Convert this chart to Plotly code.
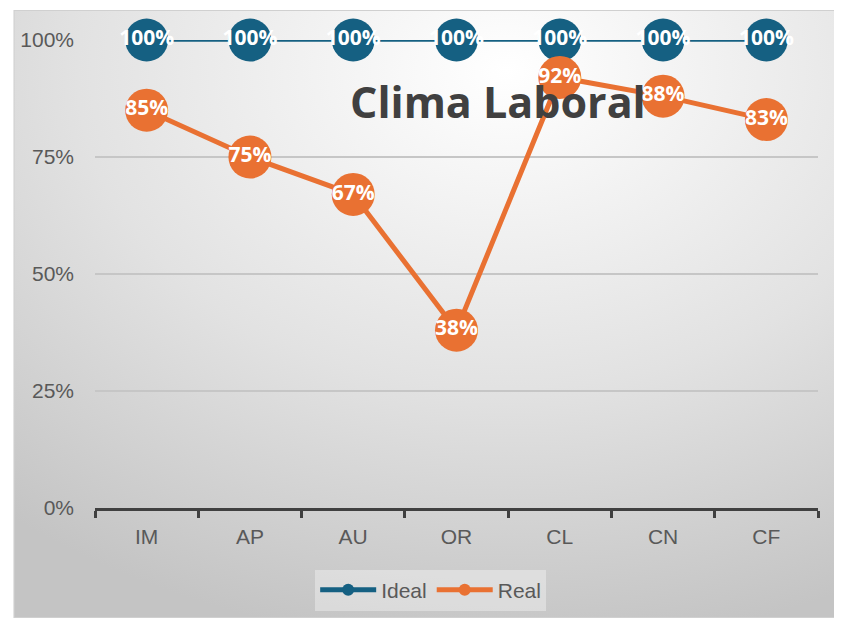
import base64
import plotly.graph_objects as go

categories = ["IM", "AP", "AU", "OR", "CL", "CN", "CF"]
ideal_values = [1.00, 1.00, 1.00, 1.00, 1.00, 1.00, 1.00]
real_values = [0.85, 0.75, 0.67, 0.38, 0.92, 0.88, 0.83]
y_ticks = [0, 0.25, 0.5, 0.75, 1.0]
y_tick_labels = ["0%", "25%", "50%", "75%", "100%"]
title_text = "Clima Laboral"

# the page places the figure 8px in from the top-left corner
OFF = 8
W, H = 842 - OFF, 623 - OFF
L, R, T, B = 90 - OFF, 24, 40 - OFF, 115
PW, PH = W - L - R, H - T - B

def px_x(px):
    return (px - OFF - L) / PW

def px_y(py):
    return (H - B - (py - OFF)) / PH

BLUE = "#156082"
ORANGE = "#E97132"

svg = '''<svg xmlns="http://www.w3.org/2000/svg" width="828" height="608" viewBox="0 0 828 608">
<defs><radialGradient id="g" cx="0.6" cy="0.1" r="0.95" fx="0.6" fy="0.1">
<stop offset="0" stop-color="#ffffff"/><stop offset="0.55" stop-color="#e2e2e2"/><stop offset="1" stop-color="#c4c4c4"/>
</radialGradient></defs>
<rect x="0" y="0" width="828" height="608" fill="url(#g)" stroke="#d0d0d0" stroke-width="2"/>
</svg>'''
src = "data:image/svg+xml;base64," + base64.b64encode(svg.encode()).decode()

fig = go.Figure()
fig.add_trace(go.Scatter(
    x=categories, y=ideal_values, name="Ideal", mode="lines+markers+text",
    line=dict(color=BLUE, width=3.5),
    marker=dict(color=BLUE, size=43),
    text=[f"<b>{v:.0%}</b>" for v in ideal_values], textposition="middle center",
    textfont=dict(color="white", size=21, family="Open Sans"),
    cliponaxis=False,
))
fig.add_trace(go.Scatter(
    x=categories, y=real_values, name="Real", mode="lines+markers+text",
    line=dict(color=ORANGE, width=5),
    marker=dict(color=ORANGE, size=43),
    text=[f"<b>{v:.0%}</b>" for v in real_values], textposition="middle center",
    textfont=dict(color="white", size=21, family="Open Sans"),
    cliponaxis=False,
))

fig.add_annotation(
    text=f"<b>{title_text}</b>", xref="paper", yref="paper",
    x=px_x(496), y=px_y(102), xanchor="center", yanchor="middle",
    showarrow=False, font=dict(size=43, color="#404040", family="Open Sans"),
)

fig.update_layout(
    width=W, height=H,
    margin=dict(l=L, r=R, t=T, b=B),
    paper_bgcolor="white", plot_bgcolor="rgba(0,0,0,0)",
    font=dict(family="Liberation Sans", size=21, color="#595959"),
    showlegend=True,
    legend=dict(orientation="h", x=px_x(428), y=px_y(590), xanchor="center", yanchor="middle",
                bgcolor="rgba(255,255,255,0.35)", font=dict(size=21, color="#595959"),
                itemwidth=56, itemsizing="constant", borderwidth=0),
    images=[dict(source=src, xref="paper", yref="paper", x=px_x(8), y=px_y(10),
                 sizex=828 / PW, sizey=608 / PH, xanchor="left", yanchor="top",
                 sizing="stretch", layer="below")],
)
fig.update_xaxes(
    type="category", range=[-0.5, len(categories) - 0.5], autorange=False,
    showline=True, linecolor="#404040", linewidth=3,
    ticks="outside", tickson="boundaries", ticklen=7, tickwidth=3, tickcolor="#404040",
    showgrid=False, ticklabelstandoff=8, tickfont=dict(size=21, color="#595959"),
)
fig.update_yaxes(
    range=[0, 1], tickvals=y_ticks, ticktext=y_tick_labels,
    showgrid=True, gridcolor="#c6c6c6", gridwidth=2, zeroline=False, showline=False,
    ticklabelstandoff=20, tickfont=dict(size=21, color="#595959"),
)

fig.write_html("out.html")
